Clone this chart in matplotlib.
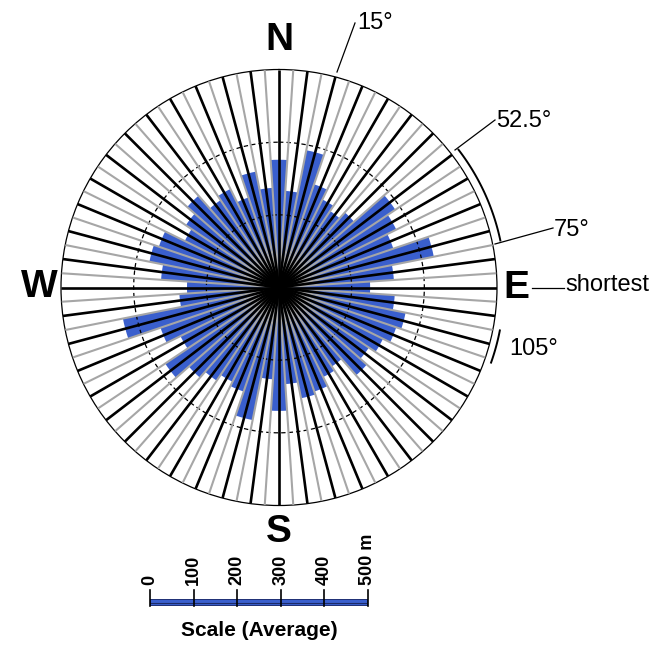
import numpy as np
import matplotlib
matplotlib.use("Agg")
import matplotlib.pyplot as plt

plt.rcParams['font.family'] = ['Liberation Sans', 'DejaVu Sans']

# ---- data ----
bin_deg = 7.5
bearings = np.arange(0, 360, bin_deg)          # bar centres (degrees, clockwise from N)
lengths_m = [293, 222, 321, 250, 225, 211, 229, 321, 300, 277, 362, 264,
             209, 266, 296, 284, 266, 248, 268, 218, 229, 252, 259, 222,
             283, 211, 310, 252, 241, 257, 275, 314, 252, 287, 365, 229,
             211, 271, 303, 291, 241, 257, 280, 241, 252, 218, 271, 229]
r_max = 500
compass = ["N", "E", "S", "W"]
scale_ticks = [0, 100, 200, 300, 400, 500]
scale_labels = ["0", "100", "200", "300", "400", "500 m"]
notes = ["15°", "52.5°", "75°", "shortest", "105°"]

W, H = 660, 652
fig = plt.figure(figsize=(W / 100, H / 100), dpi=100)
cx, cy, R = 279, 287.5, 218
ax = fig.add_axes([(cx - R) / W, (H - cy - R) / H, 2 * R / W, 2 * R / H],
                  projection='polar')
ax.set_theta_zero_location('N')
ax.set_theta_direction(-1)
ax.set_ylim(0, r_max)
ax.grid(False)
ax.set_xticks([])
ax.set_yticks([])
ax.spines['polar'].set_linewidth(0.9)
ax.spines['polar'].set_color('black')

th = np.deg2rad(bearings)
ax.bar(th, lengths_m, width=np.deg2rad(bin_deg), color='#3a5fcd',
       edgecolor='none', zorder=2)

# dashed rings
tt = np.linspace(0, 2 * np.pi, 400)
for rr in [r_max / 3, 2 * r_max / 3]:
    ax.plot(tt, np.full_like(tt, rr), color='black', lw=0.9,
            dashes=(3.5, 2.5), zorder=3)

# gray lines at bar edges, black lines at bar centres
for b in bearings:
    t = np.deg2rad(b + bin_deg / 2)
    ax.plot([t, t], [0, r_max], color='#a6a6a6', lw=1.5, zorder=4,
            solid_capstyle='butt')
for b in bearings:
    t = np.deg2rad(b)
    ax.plot([t, t], [0, r_max], color='black', lw=1.9, zorder=5,
            solid_capstyle='butt')

# annotations in pixel-like figure coords
def fx(x):
    return x / W

def fy(y):
    return 1 - y / H

tr = fig.transFigure

# compass letters
for lab, (px, py) in zip(compass, [(279, 40), (516.5, 288), (279, 532), (39, 287)]):
    fig.text(fx(px), fy(py), lab, ha='center', va='center', fontsize=28,
             fontweight='bold')

fig.add_artist(plt.Line2D([fx(337), fx(355)], [fy(72), fy(23)], color='black', lw=0.9, transform=tr))
fig.text(fx(357), fy(23), notes[0], ha='left', va='center', fontsize=17)
fig.add_artist(plt.Line2D([fx(455), fx(495)], [fy(150), fy(120)], color='black', lw=0.9, transform=tr))
fig.text(fx(496), fy(121), notes[1], ha='left', va='center', fontsize=17)
fig.add_artist(plt.Line2D([fx(495), fx(553)], [fy(244), fy(228)], color='black', lw=0.9, transform=tr))
fig.text(fx(554), fy(230), notes[2], ha='left', va='center', fontsize=17)
fig.add_artist(plt.Line2D([fx(532), fx(564)], [fy(288), fy(288)], color='black', lw=0.9, transform=tr))
fig.text(fx(565), fy(285), notes[3], ha='left', va='center', fontsize=17)
fig.text(fx(509), fy(349), notes[4], ha='left', va='center', fontsize=17)

# arcs outside the circle
ta = np.deg2rad(np.linspace(52.5, 78, 60))
ax.plot(ta, np.full_like(ta, 519), color='black', lw=1.4, clip_on=False, zorder=6)
tb = np.deg2rad(np.linspace(101, 109.5, 30))
ax.plot(tb, np.full_like(tb, 516), color='black', lw=1.4, clip_on=False, zorder=6)

# scale bar
sax = fig.add_axes([fx(150), fy(606), (368 - 150) / W, 7 / H])
sax.set_xlim(0, r_max)
sax.set_ylim(0, 1)
sax.axis('off')
sax.barh(0.5, r_max, height=1, left=0, color='#3a5fcd', edgecolor='#1c2a66', lw=1.2)
sax.plot([0, r_max], [0.5, 0.5], color='#1c2a66', lw=0.8)
for v, lab in zip(scale_ticks, scale_labels):
    sax.plot([v, v], [0, 2.3], color='black', lw=1.2, clip_on=False)
    sax.text(v, 3.0, lab, rotation=90, ha='left', va='center', fontsize=13,
             fontweight='bold', rotation_mode='anchor')
fig.text(fx(259), fy(631), "Scale (Average)", ha='center', va='center',
         fontsize=15, fontweight='bold')

fig.savefig('out.png', dpi=100)
